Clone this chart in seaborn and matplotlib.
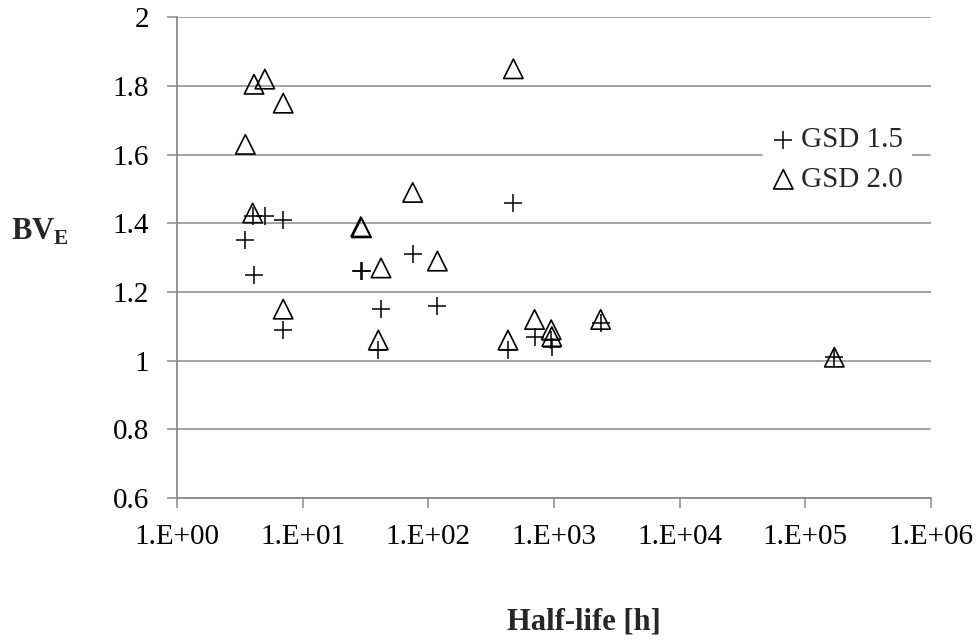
import numpy as np
import pandas as pd
import matplotlib
matplotlib.use('Agg')
import matplotlib.pyplot as plt
import seaborn as sns

# data
half_life = [3.5, 4, 4.1, 5, 7, 7, 29, 29.4, 40, 42, 75, 118, 430, 475, 700, 950, 960, 2350, 1.7e5]
gsd15 = [1.35, 1.42, 1.25, 1.42, 1.41, 1.09, 1.26, 1.262, 1.03, 1.15, 1.31, 1.16, 1.03, 1.46, 1.07, 1.06, 1.04, 1.11, 1.01]
gsd20 = [1.63, 1.43, 1.805, 1.82, 1.75, 1.15, 1.39, 1.387, 1.06, 1.27, 1.49, 1.29, 1.06, 1.85, 1.12, 1.09, 1.07, 1.12, 1.01]
x_ticks = [1, 10, 100, 1e3, 1e4, 1e5, 1e6]
x_tick_labels = ['1.E+00', '1.E+01', '1.E+02', '1.E+03', '1.E+04', '1.E+05', '1.E+06']
y_ticks = [0.6, 0.8, 1.0, 1.2, 1.4, 1.6, 1.8, 2.0]
y_tick_labels = ['0.6', '0.8', '1', '1.2', '1.4', '1.6', '1.8', '2']

df = pd.DataFrame({'half_life': half_life, 'gsd15': gsd15, 'gsd20': gsd20})

sns.set_style('white')
plt.rcParams['font.family'] = ['Liberation Serif', 'DejaVu Serif']
plt.rcParams['mathtext.fontset'] = 'custom'
plt.rcParams['mathtext.rm'] = 'Liberation Serif'
plt.rcParams['mathtext.bf'] = 'Liberation Serif:bold'

grey = '#8a8a8a'
fig = plt.figure(figsize=(9.79, 6.43), dpi=100)
ax = fig.add_axes([0.1808, 0.2255, 0.7702, 0.7476])

sns.scatterplot(data=df, x='half_life', y='gsd15', marker='+', s=170, color='black',
                linewidth=1.1, label='GSD 1.5', ax=ax, zorder=3)
sns.scatterplot(data=df, x='half_life', y='gsd20', marker='^', s=195, facecolor='none',
                edgecolor='black', linewidth=1.2, label='GSD 2.0', ax=ax, zorder=3)

ax.set_xscale('log')
ax.set_xlim(1, 1e6)
ax.set_ylim(0.6, 2.0)
ax.set_xticks(x_ticks)
ax.set_xticklabels(x_tick_labels)
ax.xaxis.set_minor_locator(matplotlib.ticker.NullLocator())
ax.set_yticks(y_ticks)
ax.set_yticklabels(y_tick_labels)

ax.yaxis.grid(True, color=grey, linewidth=1.1)
ax.xaxis.grid(False)
ax.set_axisbelow(True)
for side in ['top', 'right']:
    ax.spines[side].set_visible(False)
for side in ['left', 'bottom']:
    ax.spines[side].set_color(grey)
    ax.spines[side].set_linewidth(1.3)
ax.tick_params(axis='both', direction='out', length=7, width=1.1, color=grey,
               labelsize=21, labelcolor='black')
ax.tick_params(axis='x', pad=12, bottom=True)
ax.tick_params(axis='y', pad=13, left=True)

ax.set_xlabel('Half-life [h]', fontsize=22, fontweight='bold')
ax.xaxis.set_label_coords(0.54, -0.258)
ax.xaxis.label.set_va('center')
ax.set_ylabel(r'$\mathbf{BV}_{\mathbf{E}}$', fontsize=22, rotation=0, ha='center', va='center')
ax.yaxis.set_label_coords(-0.182, 0.553)

leg = ax.legend(loc='upper left', bbox_to_anchor=(0.777, 0.79), fontsize=21, frameon=True,
                handlelength=0.8, handletextpad=0.2, labelspacing=0.45, borderpad=0.3,
                borderaxespad=0, scatterpoints=1)
leg.get_frame().set_edgecolor('none')
leg.get_frame().set_facecolor('white')
leg.get_frame().set_alpha(1)
leg.get_frame().set_boxstyle('square', pad=0)

fig.savefig('out.png', dpi=100)
